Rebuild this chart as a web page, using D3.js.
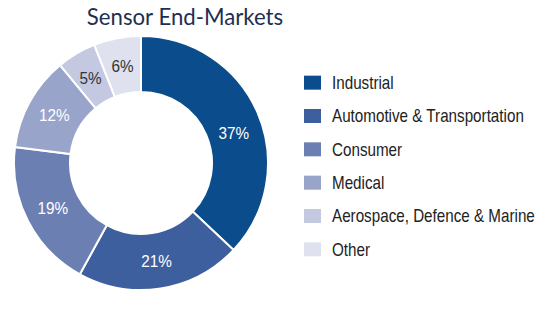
<!DOCTYPE html>
<html><head><meta charset="utf-8">
<script src="https://cdn.jsdelivr.net/npm/d3@7"></script>
<style>body{margin:0;background:#fff}svg{display:block}</style>
</head><body>
<svg id="c" width="543" height="322"></svg>
<script>
const categories = ["Industrial","Automotive & Transportation","Consumer","Medical","Aerospace, Defence & Marine","Other"];
const values = [37,21,19,12,5,6];
const colors = ["#0b4d8c","#3e5f9d","#6c7fb3","#98a4c9","#c4c9e1","#dfe1ee"];
const labelColors = ["#fff","#fff","#fff","#fff","#333","#333"];
const title = "Sensor End-Markets";

const svg = d3.select("#c");
const cx = 141, cy = 163, R = 127, r0 = 71;
const font = "'Liberation Sans',Arial,sans-serif";

svg.append("text").attr("x",185).attr("y",25).attr("text-anchor","middle")
  .attr("font-family","Lato,'Open Sans',sans-serif").attr("font-size",22.2)
  .attr("fill","#1f2f52").text(title);

const pie = d3.pie().sort(null).value(d=>d);
const arcs = pie(values);
const arc = d3.arc().innerRadius(r0).outerRadius(R);
const lab = d3.arc().innerRadius(99).outerRadius(99);
const g = svg.append("g").attr("transform",`translate(${cx},${cy})`);
g.selectAll("path").data(arcs).join("path").attr("d",arc)
  .attr("fill",(d,i)=>colors[i]).attr("stroke","#fff").attr("stroke-width",2);
g.selectAll("text").data(arcs).join("text")
  .attr("transform",(d,i)=>{const c=lab.centroid(d); if(i===0){c[0]+=2;c[1]+=9;} return `translate(${c}) scale(0.9,1)`;})
  .attr("text-anchor","middle").attr("dy","0.36em")
  .attr("font-family",font).attr("font-size",17)
  .attr("fill",(d,i)=>labelColors[i]).text(d=>d.value+"%");

const y = d3.scaleBand().domain(categories).range([66,266]);
const lg = svg.append("g");
const rows = lg.selectAll("g").data(categories).join("g")
  .attr("transform",d=>`translate(304,${y(d)+y.bandwidth()/2})`);
rows.append("rect").attr("x",0).attr("y",-7).attr("width",17).attr("height",14)
  .attr("fill",(d,i)=>colors[i]);
rows.append("text").attr("transform","translate(28,0) scale(0.845,1)").attr("dy","0.36em")
  .attr("font-family",font).attr("font-size",18).attr("fill","#222").text(d=>d);
</script>
</body></html>
